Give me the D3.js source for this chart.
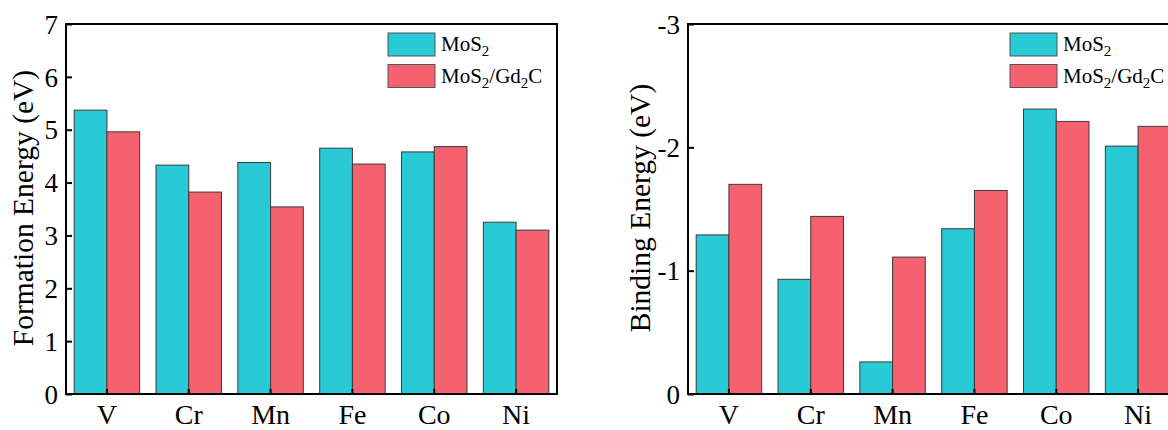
<!DOCTYPE html>
<html>
<head>
<meta charset="utf-8">
<script src="https://cdn.jsdelivr.net/npm/d3@7"></script>
<style>
html,body{margin:0;padding:0;background:#fff;}
svg{display:block;}
svg text{font-family:"Liberation Serif",serif !important;}
</style>
</head>
<body>
<svg id="chart" width="1168" height="430" font-family="Liberation Serif"></svg>
<script>
const categories = ["V", "Cr", "Mn", "Fe", "Co", "Ni"];
const seriesNames = ["MoS2", "MoS2/Gd2C"];
const formationMoS2 = [5.37, 4.33, 4.38, 4.65, 4.58, 3.25];
const formationGd2C = [4.96, 3.82, 3.54, 4.35, 4.68, 3.10];
const bindingMoS2 = [-1.29, -0.93, -0.26, -1.34, -2.31, -2.01];
const bindingGd2C = [-1.70, -1.44, -1.11, -1.65, -2.21, -2.17];
const formationTicks = [0, 1, 2, 3, 4, 5, 6, 7];
const bindingTicks = [0, -1, -2, -3];

const colors = ["#28CAD6", "#F5616F"];
const FONT = "Liberation Serif";
const svg = d3.select("#chart");

function panel(opts) {
  const {left, right, top, bottom, domain, ticks, s1, s2, title, titleX} = opts;
  const g = svg.append("g");
  const x = d3.scaleBand().domain(categories).range([left, right]).paddingInner(0.2).paddingOuter(0.1);
  const xs = d3.scaleBand().domain([0, 1]).range([0, x.bandwidth()]);
  const y = d3.scaleLinear().domain(domain).range([bottom, top]);

  const data = categories.map((c, i) => ({c, vals: [s1[i], s2[i]]}));
  const groups = g.selectAll("g.grp").data(data).join("g")
    .attr("transform", d => `translate(${x(d.c)},0)`);
  groups.selectAll("rect").data(d => d.vals.map((v, k) => ({v, k}))).join("rect")
    .attr("x", d => xs(d.k))
    .attr("width", xs.bandwidth())
    .attr("y", d => Math.min(y(0), y(d.v)))
    .attr("height", d => Math.abs(y(d.v) - y(0)))
    .attr("fill", d => colors[d.k])
    .attr("stroke", "#3a3a3a")
    .attr("stroke-width", 1);

  // frame
  g.append("rect").attr("x", left).attr("y", top)
    .attr("width", right - left).attr("height", bottom - top)
    .attr("fill", "none").attr("stroke", "#000").attr("stroke-width", 2);

  const ya = d3.axisLeft(y).tickValues(ticks).tickFormat(d => String(d))
    .tickSizeInner(-6).tickSizeOuter(0).tickPadding(8);
  const yg = g.append("g").attr("transform", `translate(${left},0)`).call(ya)
    .attr("font-family", FONT);
  yg.select(".domain").remove();
  yg.selectAll(".tick line").attr("stroke", "#000").attr("stroke-width", 2);
  yg.selectAll(".tick text").attr("font-size", 27).attr("fill", "#000")
    .attr("font-family", FONT).attr("dy", "0.34em");

  const xa = d3.axisBottom(x).tickSizeInner(-5).tickSizeOuter(0).tickPadding(10);
  const xg = g.append("g").attr("transform", `translate(0,${bottom})`).call(xa)
    .attr("font-family", FONT);
  xg.select(".domain").remove();
  xg.selectAll(".tick line").attr("stroke", "#000").attr("stroke-width", 2);
  xg.selectAll(".tick text").attr("font-size", 28).attr("fill", "#000")
    .attr("font-family", FONT);

  g.append("text")
    .attr("transform", `translate(${titleX},${(top + bottom) / 2 - 1}) rotate(-90)`)
    .attr("text-anchor", "middle").attr("font-size", 29.5).attr("fill", "#000")
    .attr("font-family", FONT)
    .text(title);

  // legend
  const lx = left + 322, ly = top + 9;
  const rowH = 31.5;
  seriesNames.forEach((name, k) => {
    g.append("rect").attr("x", lx).attr("y", ly + k * rowH)
      .attr("width", 47).attr("height", 23)
      .attr("fill", colors[k]).attr("stroke", "#555").attr("stroke-width", 1);
    const t = g.append("text").attr("x", lx + 53).attr("y", ly + k * rowH + 18)
      .attr("font-size", 21).attr("fill", "#000").attr("font-family", FONT);
    const parts = name === "MoS2" ? [["MoS", false], ["2", true]]
      : [["MoS", false], ["2", true], ["/Gd", false], ["2", true], ["C", false]];
    let prevSub = false;
    parts.forEach(([s, sub]) => {
      let dy = 0;
      if (sub && !prevSub) dy = 5;
      if (!sub && prevSub) dy = -5;
      t.append("tspan").attr("font-size", sub ? 15 : 21).attr("dy", dy).text(s);
      prevSub = sub;
    });
  });
}

panel({left: 66, right: 557, top: 24, bottom: 394, domain: [0, 7], ticks: formationTicks,
  s1: formationMoS2, s2: formationGd2C, title: "Formation Energy (eV)", titleX: 33});
panel({left: 688, right: 1179, top: 24, bottom: 394, domain: [0, -3], ticks: bindingTicks,
  s1: bindingMoS2, s2: bindingGd2C, title: "Binding Energy (eV)", titleX: 650});
</script>
</body>
</html>
